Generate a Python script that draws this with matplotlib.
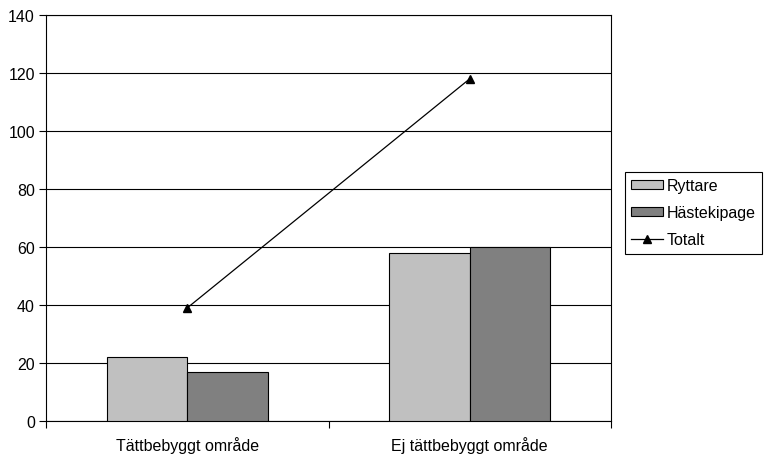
import numpy as np
import matplotlib.pyplot as plt

plt.rcParams['font.family'] = ['Liberation Sans', 'DejaVu Sans']

categories = ["Tättbebyggt område", "Ej tättbebyggt område"]
ryttare = [22, 58]
hastekipage = [17, 60]
totalt = [39, 118]

fig = plt.figure(figsize=(7.64, 4.6), dpi=100)
ax = fig.add_axes([46/764, 38/460, 565/764, 406/460])

x = np.arange(len(categories))
w = 1/3.5
b1 = ax.bar(x - w/2, ryttare, w, color="#c0c0c0", edgecolor="black", linewidth=0.8, label="Ryttare", zorder=3)
b2 = ax.bar(x + w/2, hastekipage, w, color="#808080", edgecolor="black", linewidth=0.8, label="Hästekipage", zorder=3)
l1, = ax.plot(x, totalt, color="black", linewidth=0.9, marker="^", markersize=6, label="Totalt", zorder=4)

ax.set_xlim(-0.5, 1.5)
ax.set_ylim(0, 140)
ax.set_yticks(np.arange(0, 141, 20))
ax.yaxis.grid(True, color="black", linewidth=0.8, zorder=0)
ax.set_axisbelow(True)

ax.set_xticks([-0.5, 0.5, 1.5])
ax.set_xticklabels([])
ax.set_xticks(x, minor=True)
ax.set_xticklabels(categories, minor=True)
ax.tick_params(axis="x", which="minor", length=0, pad=11, labelsize=11.5)
ax.tick_params(axis="x", which="major", length=5, direction="out", color="black")
ax.tick_params(axis="y", length=5, direction="out", labelsize=11.5, pad=3)

for s in ax.spines.values():
    s.set_color("black")
    s.set_linewidth(0.8)

leg = fig.legend([b1, b2, l1], ["Ryttare", "Hästekipage", "Totalt"],
                 loc="upper left", bbox_to_anchor=(625/764, 1 - 173/460), fontsize=11.5,
                 frameon=True, fancybox=False, edgecolor="black", framealpha=1,
                 handlelength=2.0, handleheight=0.45, handletextpad=0.2,
                 labelspacing=0.75, borderpad=0.4, borderaxespad=0)
leg.get_frame().set_linewidth(0.8)

fig.savefig("out.png", dpi=100)
